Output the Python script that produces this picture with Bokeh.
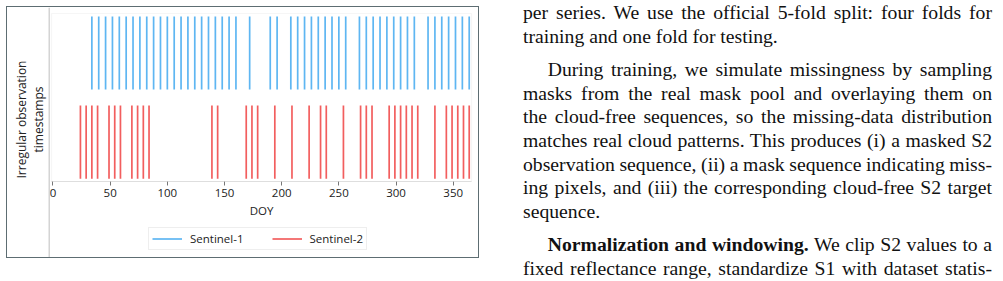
import math
from bokeh.plotting import figure
from bokeh.models import (Range1d, FixedTicker, Legend, LegendItem, Div,
                          ColumnDataSource, BoxAnnotation, Span)
from bokeh.core.properties import value
from bokeh.layouts import row
from bokeh.embed import file_html
from bokeh.resources import INLINE

# ---------------- data ----------------
s1_doy = [34, 40, 46, 52, 58, 64, 70, 76, 82, 88, 94, 100, 106, 112, 118, 124,
          130, 136, 142, 148, 154, 160, 172, 190, 196, 208, 214, 220, 226, 232,
          238, 244, 250, 256, 268, 274, 280, 286, 292, 298, 304, 310, 316, 328,
          334, 340, 346, 352, 358, 364]
s2_doy = [24, 29, 34, 39, 49, 54, 59, 69, 74, 79, 84, 139, 144, 169, 174, 179,
          194, 209, 224, 234, 239, 254, 269, 274, 279, 294, 299, 304, 309, 314,
          319, 334, 344, 349, 354, 359, 364]
series_names = ["Sentinel-1", "Sentinel-2"]
series_offsets = [1, 0]
x_ticks = [0, 50, 100, 150, 200, 250, 300, 350]
x_label = "DOY"
y_label_lines = ["Irregular observation", "timestamps"]

text_paragraphs = [
    (False, ["per series.  We use the official 5-fold split: four folds for",
             "training and one fold for testing."]),
    (True, ["During training, we simulate missingness by sampling",
            "masks from the real mask pool and overlaying them on",
            "the cloud-free sequences, so the missing-data distribution",
            "matches real cloud patterns. This produces (i) a masked S2",
            "observation sequence, (ii) a mask sequence indicating miss-",
            "ing pixels, and (iii) the corresponding cloud-free S2 target",
            "sequence."]),
    (True, ["<b>Normalization and windowing.</b> We clip S2 values to a",
            "fixed reflectance range, standardize S1 with dataset statis-"]),
]

# ---------------- layout geometry (page pixels) ----------------
FIG_X, FIG_Y, FIG_W, FIG_H = 7, 7, 471, 250
AX_L, AX_R, AX_T, AX_B = 51, 471, 13, 181          # plot area
X_LO, X_HI = -1.3, 366.0                           # DOY limits
Y_LO, Y_HI = -0.441, 1.443
kx = (AX_R - AX_L) / (X_HI - X_LO)
ky = (AX_B - AX_T) / (Y_HI - Y_LO)
x_start = X_LO - (AX_L - FIG_X) / kx
x_end = X_HI + (FIG_X + FIG_W - AX_R) / kx
y_end = Y_HI + (AX_T - FIG_Y) / ky
y_start = Y_LO - (FIG_Y + FIG_H - AX_B) / ky


def px2x(px):
    return x_start + (px - FIG_X) / kx


def px2y(py):
    return y_end - (py - FIG_Y) / ky


CHART_FONT = "Open Sans"
FS = "11.5px"
TXT = "#222222"
BLUE = "#48acf0"
RED = "#f04848"
HALF = 0.41

p = figure(frame_width=FIG_W, frame_height=FIG_H, margin=(FIG_Y, 0, 0, FIG_X),
           x_range=Range1d(x_start, x_end), y_range=Range1d(y_start, y_end),
           output_backend="svg", toolbar_location=None, y_axis_location=None,
           min_border=0)
p.background_fill_color = "white"
p.border_fill_color = "white"
p.outline_line_color = None
p.xgrid.grid_line_color = None
p.ygrid.grid_line_color = None
p.styles = {"outline": "1px solid #5d6d72"}

# left grey rule and plot-area box
p.add_layout(Span(location=px2x(48.7), dimension="height",
                  line_color="#c9c9c9", line_width=1.2))
p.add_layout(BoxAnnotation(left=X_LO, right=X_HI, bottom=Y_LO, top=Y_HI,
                           fill_alpha=0, line_color="#e0e0e0", line_width=1.2))

src1 = ColumnDataSource(dict(x=s1_doy,
                             y0=[series_offsets[0] - HALF] * len(s1_doy),
                             y1=[series_offsets[0] + HALF] * len(s1_doy)))
src2 = ColumnDataSource(dict(x=s2_doy,
                             y0=[series_offsets[1] - HALF] * len(s2_doy),
                             y1=[series_offsets[1] + HALF] * len(s2_doy)))
r1 = p.segment(x0="x", y0="y0", x1="x", y1="y1", source=src1,
               line_color=BLUE, line_width=1.7, line_alpha=0.88)
r2 = p.segment(x0="x", y0="y0", x1="x", y1="y1", source=src2,
               line_color=RED, line_width=1.7, line_alpha=0.88)

xa = p.xaxis[0]
xa.fixed_location = Y_LO
xa.bounds = (X_LO, X_HI)
xa.ticker = FixedTicker(ticks=x_ticks)
xa.axis_label = x_label
xa.axis_label_text_font = CHART_FONT
xa.axis_label_text_font_size = FS
xa.axis_label_text_font_style = "normal"
xa.axis_label_text_color = TXT
xa.axis_label_standoff = 3
xa.major_label_text_font = CHART_FONT
xa.major_label_text_font_size = FS
xa.major_label_text_color = TXT
xa.major_label_standoff = 3
xa.axis_line_color = "#dddddd"
xa.major_tick_line_color = "#777777"
xa.major_tick_out = 4
xa.major_tick_in = 0
xa.minor_tick_line_color = None

# y-axis title (two lines, rotated)
p.text(x=[px2x(21), px2x(38)], y=[px2y(119), px2y(119)], text=y_label_lines,
       angle=math.pi / 2, text_align="center", text_baseline="middle",
       text_font=value(CHART_FONT), text_font_size=value("12px"),
       text_color=TXT)

legend = Legend(items=[LegendItem(label=series_names[0], renderers=[r1]),
                       LegendItem(label=series_names[1], renderers=[r2])],
                orientation="horizontal",
                location=(148 - FIG_X, FIG_Y + FIG_H - 250),
                glyph_width=30, glyph_height=15, label_height=15,
                label_standoff=8, spacing=28, padding=3, margin=0,
                label_text_font=CHART_FONT, label_text_font_size=FS,
                label_text_color=TXT,
                border_line_color="#dddddd", background_fill_color="white")
p.add_layout(legend)

# ---------------- text column ----------------
L = 23.6
GAP = 10
parts = []
for pi, (indent, lines) in enumerate(text_paragraphs):
    for li, ln in enumerate(lines):
        last = (li == len(lines) - 1) and pi < len(text_paragraphs) - 1
        st = f"height:{L}px;line-height:{L}px;"
        if li == 0 and pi > 0:
            st += f"margin-top:{GAP}px;"
        if li == 0 and indent:
            st += "text-indent:24.7px;"
        if last:
            st += "text-align:left;"
        else:
            st += "text-align:justify;text-align-last:justify;word-spacing:-2px;"
        parts.append(f'<div style="{st}">{ln}</div>')
html = ('<div style="width:469px;margin-left:45px;padding-top:1px;'
        'font-family:\'Liberation Serif\';font-size:19.7px;color:#111;">'
        + "".join(parts) + "</div>")
div = Div(text=html, width=1003 - FIG_X - FIG_W, height=281, margin=0)

layout = row(p, div)
open("out.html", "w").write(file_html(layout, INLINE))
